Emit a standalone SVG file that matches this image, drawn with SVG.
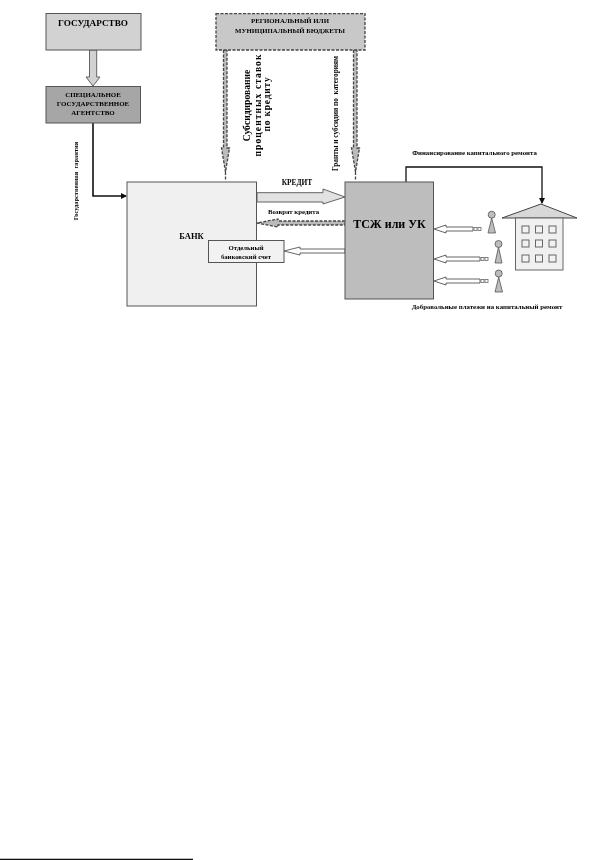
<svg xmlns="http://www.w3.org/2000/svg" width="593" height="860" viewBox="0 0 593 860">
<style>
text{font-family:"Liberation Serif","Times New Roman",serif;font-weight:bold;fill:#000;text-anchor:middle}
.box{stroke:#555;stroke-width:1}
.dash{stroke:#444;stroke-width:1.300;stroke-dasharray:3 1.500}
.flow{fill:#fff;stroke:#555;stroke-width:.9}
.sq{fill:#fff;stroke:#666;stroke-width:.8}
.win{fill:#f2f2f2;stroke:#666;stroke-width:1}
.pers{fill:#bdbdbd;stroke:#555;stroke-width:.8}
</style>
<defs>
<marker id="blk" markerWidth="6" markerHeight="6" refX="5" refY="3" orient="auto" markerUnits="userSpaceOnUse"><path d="M0 0L6 3L0 6Z" fill="#111"/></marker>
<filter id="scan" x="0" y="0" width="100%" height="100%"><feGaussianBlur stdDeviation="0.25"/></filter>
</defs>
<rect width="593" height="860" fill="#fff"/>
<g filter="url(#scan)">
<g id="connectors">
<path id="c-state-agency" d="M89.500 50H96.700V77H100L93 86L86 77H89.500Z" fill="#d2d2d2" stroke="#555" stroke-width=".9"/>
<path id="c-guarantee" d="M93 123V196H126" fill="none" stroke="#111" stroke-width="1.600" marker-end="url(#blk)"/>
<path id="c-subsidy" class="dash" d="M223.500 50V148H221.500L225.500 172L229.500 148H227V50ZM225.500 172V181" fill="#bbb"/>
<path id="c-grants" class="dash" d="M353.500 50V148H351.500L355.500 172L359.500 148H357V50ZM355.500 172V181" fill="#bbb"/>
<path id="c-credit" d="M257 192.700H323V189L345 197L323 204V202H257Z" fill="#e2e2e2" stroke="#555" stroke-width=".9"/>
<path id="c-return" class="dash" d="M345 221H278V219L257 223L278 227V225H345Z" fill="#bbb"/>
<path id="c-account" class="flow" d="M345 249H300V247L284 251L300 255V253H345Z"/>
<path id="c-pay1" class="flow" d="M473 227H446V225L434 229L446 233V231H473Z"/>
<path id="c-pay2" class="flow" d="M480 257H446V255L434 259L446 263V261H480Z"/>
<path id="c-pay3" class="flow" d="M480 279H446V277L434 281L446 285V283H480Z"/>
<rect class="sq" x="474" y="227.500" width="3" height="3"/><rect class="sq" x="478" y="227.500" width="3" height="3"/>
<rect class="sq" x="481" y="257.500" width="3" height="3"/><rect class="sq" x="485" y="257.500" width="3" height="3"/>
<rect class="sq" x="481" y="279.500" width="3" height="3"/><rect class="sq" x="485" y="279.500" width="3" height="3"/>
<path id="c-finance" d="M406 182V167H542V203" fill="none" stroke="#111" stroke-width="1.300" marker-end="url(#blk)"/>
</g>
<g id="state"><rect class="box" x="46" y="13.500" width="95" height="36.500" fill="#d2d2d2"/><text x="93" y="26" font-size="9.200">ГОСУДАРСТВО</text></g>
<g id="agency"><rect class="box" x="46" y="86.500" width="94.500" height="36.500" fill="#a6a6a6"/><text x="93" y="96.700" font-size="6.900">СПЕЦИАЛЬНОЕ</text><text x="93" y="106" font-size="6.900">ГОСУДАРСТВЕННОЕ</text><text x="93" y="114.500" font-size="6.900">АГЕНТСТВО</text></g>
<g id="budget"><rect class="dash" x="216" y="13.500" width="149" height="36.500" fill="#c8c8c8"/><text x="290" y="23.300" font-size="6.800">РЕГИОНАЛЬНЫЙ ИЛИ</text><text x="290" y="32.700" font-size="6.800">МУНИЦИПАЛЬНЫЙ БЮДЖЕТЫ</text></g>
<g id="bank"><rect class="box" x="127" y="182" width="129.500" height="124" fill="#f0f0f0"/><text x="191.500" y="239" font-size="8.500">БАНК</text></g>
<g id="account"><rect class="box" x="208.500" y="240.500" width="75.500" height="22" fill="#f2f2f2"/><text x="246" y="250" font-size="6.700">Отдельный</text><text x="246" y="258.500" font-size="6.700">банковский счет</text></g>
<g id="tsj"><rect class="box" x="345" y="182" width="88.500" height="117" fill="#bdbdbd"/><text x="389.500" y="227.700" font-size="12">ТСЖ или УК</text></g>
<g id="house">
<path d="M502 218L541 204L577 218Z" fill="#d8d8d8" stroke="#444"/>
<rect x="515.500" y="218" width="47.500" height="52" fill="#f0f0f0" stroke="#666"/>
<rect class="win" x="522" y="226" width="7" height="7"/><rect class="win" x="535.500" y="226" width="7" height="7"/><rect class="win" x="549" y="226" width="7" height="7"/>
<rect class="win" x="522" y="240" width="7" height="7"/><rect class="win" x="535.500" y="240" width="7" height="7"/><rect class="win" x="549" y="240" width="7" height="7"/>
<rect class="win" x="522" y="255" width="7" height="7"/><rect class="win" x="535.500" y="255" width="7" height="7"/><rect class="win" x="549" y="255" width="7" height="7"/>
</g>
<g id="person1"><path class="pers" d="M491.700 218L488 233H495.500Z"/><circle class="pers" cx="491.700" cy="214.700" r="3.500"/></g>
<g id="person2"><path class="pers" d="M498.500 247L495 263H502Z"/><circle class="pers" cx="498.500" cy="244" r="3.500"/></g>
<g id="person3"><path class="pers" d="M498.700 277L495 292H502.500Z"/><circle class="pers" cx="498.700" cy="273.500" r="3.500"/></g>
<g id="labels">
<text transform="translate(78 181) rotate(-90)" font-size="6.400" xml:space="preserve">Государственная  гарантия</text>
<text transform="translate(250 105.500) rotate(-90)" font-size="9.600">Субсидирование</text>
<text transform="translate(261 105) rotate(-90)" font-size="9.500" letter-spacing="1.100">процентных ставок</text>
<text transform="translate(270 104) rotate(-90)" font-size="9.500" letter-spacing=".8">по кредиту</text>
<text transform="translate(338 113.500) rotate(-90)" font-size="7.300" xml:space="preserve">Гранты и субсидии по  категориям</text>
<text x="297" y="184.500" font-size="7.400">КРЕДИТ</text>
<text x="293.500" y="214" font-size="6.800">Возврат кредита</text>
<text x="474.500" y="155" font-size="6.800">Финансирование капитального ремонта</text>
<text x="487" y="309" font-size="6.850">Добровольные платежи на капитальный ремонт</text>
</g>
<path id="footnote-rule" d="M0 859.300H193" stroke="#111" stroke-width="1.200"/>
</g>
</svg>
